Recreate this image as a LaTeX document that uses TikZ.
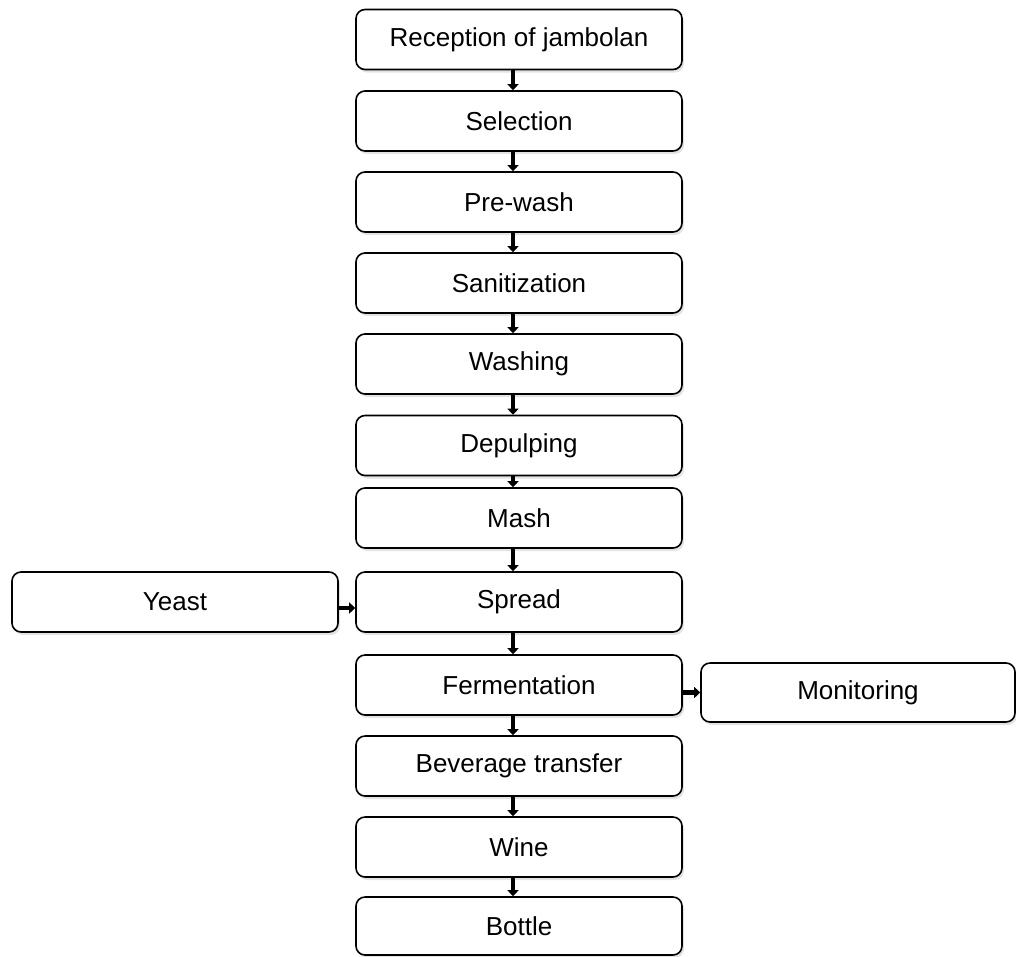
\documentclass[tikz,border=0pt]{standalone}
\usepackage{fontspec}
\setmainfont{Liberation Sans}
\usetikzlibrary{arrows.meta,shadows}
\begin{document}
\begin{tikzpicture}[x=1pt,y=-1pt,
  procbox/.style={draw=black, line width=1.6pt, rounded corners=9pt, fill=white,
    minimum width=326pt, minimum height=60pt, inner sep=0pt, font=\fontsize{26}{30}\selectfont,
    drop shadow={fill=black!18, opacity=0.6, shadow xshift=2pt, shadow yshift=-3pt}},
  flow/.style={line width=4.2pt, -{Triangle[length=6pt,width=11pt]}}]
\useasboundingbox (0,0) rectangle (1016,956);
\node[procbox] (n1) at (519,39.5) {Reception of jambolan};
\node[procbox] (n2) at (519,121) {Selection};
\node[procbox] (n3) at (519,202) {Pre-wash};
\node[procbox] (n4) at (519,283) {Sanitization};
\node[procbox] (n5) at (519,364) {Washing};
\node[procbox] (n6) at (519,445.5) {Depulping};
\node[procbox] (n7) at (519,518) {Mash};
\node[procbox] (n8) at (519,602) {Spread};
\node[procbox] (n9) at (519,685) {Fermentation};
\node[procbox] (n10) at (519,766) {Beverage transfer};
\node[procbox] (n11) at (519,847) {Wine};
\node[procbox, minimum height=58pt] (n12) at (519,926) {Bottle};
\node[procbox] (yeast) at (175,602) {Yeast};
\node[procbox, minimum width=314pt, minimum height=59pt] (mon) at (858,692.5) {Monitoring};
\foreach \a/\b in {n1/n2,n2/n3,n3/n4,n4/n5,n5/n6,n6/n7,n7/n8,n8/n9,n9/n10,n10/n11,n11/n12}
  \draw[flow] ([xshift=-6pt]\a.south) -- ([xshift=-6pt]\b.north);
\draw[flow] ([yshift=-6pt]yeast.east) -- ([yshift=-6pt]n8.west);
\draw[flow] (n9.east |- mon.west) -- (mon.west);
\end{tikzpicture}
\end{document}
